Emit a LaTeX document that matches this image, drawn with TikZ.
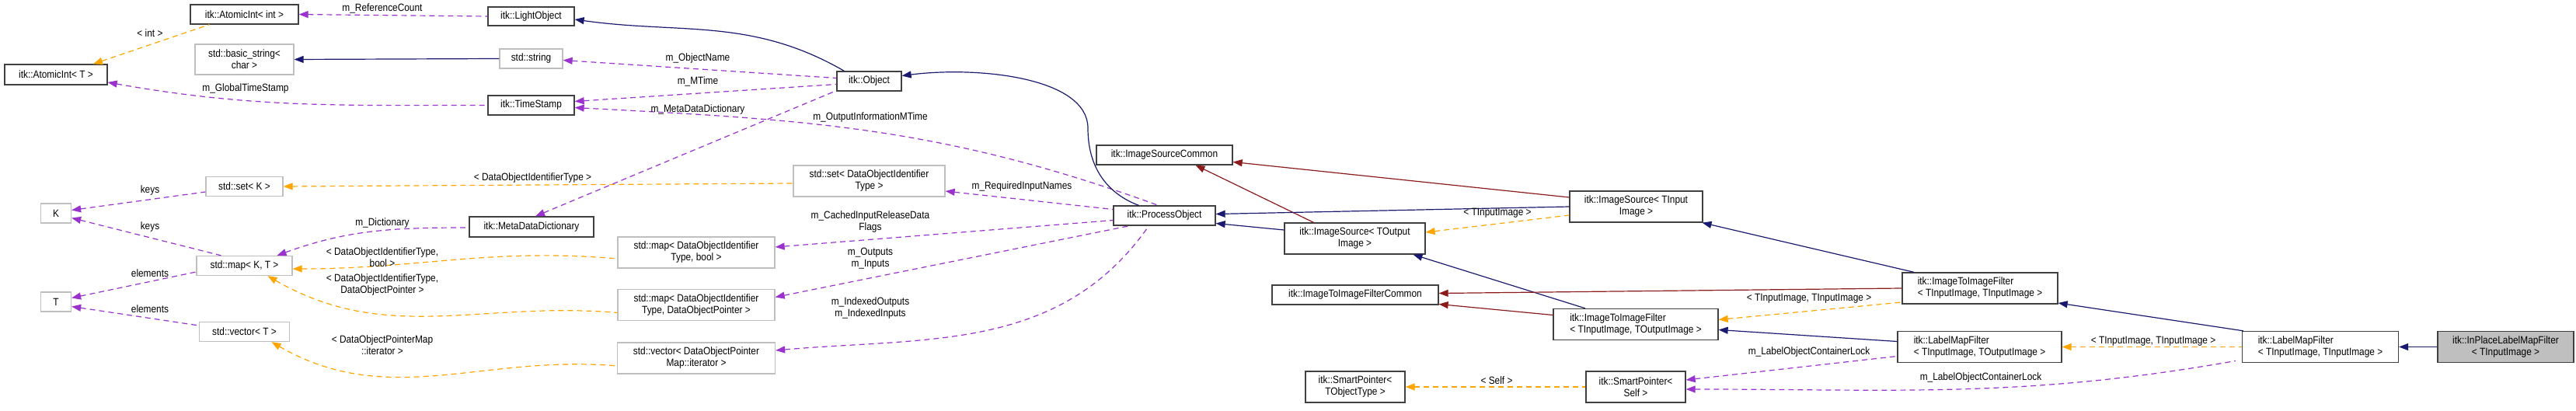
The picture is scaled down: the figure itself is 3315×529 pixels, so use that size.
\documentclass[tikz,border=0pt]{standalone}
\usepackage{fontspec}
\setmainfont{Liberation Sans}[FakeStretch=0.88]
\usetikzlibrary{arrows.meta}
\definecolor{inh}{HTML}{191970}
\definecolor{use}{HTML}{9A32CD}
\definecolor{tpl}{HTML}{FFA500}
\definecolor{prot}{HTML}{8B1A1A}
\definecolor{bord}{HTML}{404040}
\definecolor{gbord}{HTML}{BFBFBF}
\tikzset{
  bx/.style={draw=bord,line width=1.3pt,fill=white,inner sep=0pt,font=\fontsize{13.5}{15}\selectfont,align=center},
  gx/.style={bx,draw=gbord},
  inhe/.style={draw=inh,line width=1.2pt,{Triangle[length=12pt,width=9pt]}-},
  usee/.style={draw=use,dashed,dash pattern=on 7pt off 5pt,line width=1.2pt,{Triangle[length=12pt,width=9pt]}-},
  tple/.style={draw=tpl,dashed,dash pattern=on 7pt off 5pt,line width=1.2pt,{Triangle[length=12pt,width=9pt]}-},
  prote/.style={draw=prot,line width=1.2pt,{Triangle[length=12pt,width=9pt]}-},
  lb/.style={font=\fontsize{13.5}{15}\selectfont,align=center,inner sep=0pt}
}
\begin{document}
\begin{tikzpicture}[x=1pt,y=-1pt]
\useasboundingbox (0,0) rectangle (3315,529);
% nodes
\node[bx,minimum width=139pt,minimum height=25pt] (aint) at (314.5,18.5) {itk::AtomicInt< int >};
\node[bx,minimum width=132pt,minimum height=26pt] (aintT) at (72,96) {itk::AtomicInt< T >};
\node[gx,minimum width=127pt,minimum height=39pt] (bstr) at (314.5,76.5) {std::basic\_string<\\char >};
\node[gx,minimum width=39pt,minimum height=25pt] (K) at (72,274.5) {K};
\node[gx,minimum width=39pt,minimum height=25pt] (T) at (72,388.5) {T};
\node[gx,minimum width=99pt,minimum height=25pt] (setK) at (314.5,240) {std::set< K >};
\node[gx,minimum width=123pt,minimum height=25pt] (map) at (314.5,342) {std::map< K, T >};
\node[gx,minimum width=116pt,minimum height=25pt] (vecT) at (314.5,427) {std::vector< T >};
\node[bx,minimum width=111pt,minimum height=24pt] (light) at (683.5,21) {itk::LightObject};
\node[gx,minimum width=81pt,minimum height=25pt] (str) at (683.5,75.5) {std::string};
\node[bx,minimum width=111pt,minimum height=25pt] (ts) at (683.5,135.5) {itk::TimeStamp};
\node[bx,minimum width=160pt,minimum height=26pt] (mdd) at (684,292) {itk::MetaDataDictionary};
\node[gx,minimum width=202pt,minimum height=40pt] (mapb) at (896,325) {std::map< DataObjectIdentifier\\Type, bool >};
\node[gx,minimum width=202pt,minimum height=40pt] (mapd) at (896,392.5) {std::map< DataObjectIdentifier\\Type, DataObjectPointer >};
\node[gx,minimum width=203pt,minimum height=40pt] (vec) at (896,461) {std::vector< DataObjectPointer\\Map::iterator >};
\node[bx,minimum width=83pt,minimum height=25pt] (obj) at (1118.5,104.5) {itk::Object};
\node[gx,minimum width=195pt,minimum height=40pt] (setD) at (1118.5,233) {std::set< DataObjectIdentifier\\Type >};
\node[bx,minimum width=131pt,minimum height=25pt] (po) at (1498.5,277.5) {itk::ProcessObject};
\node[bx,minimum width=175pt,minimum height=25pt] (isc) at (1498.5,199.5) {itk::ImageSourceCommon};
\node[bx,minimum width=181pt,minimum height=40pt] (isO) at (1743.5,307) {itk::ImageSource< TOutput\\Image >};
\node[bx,minimum width=214pt,minimum height=25pt] (itifC) at (1744,379.5) {itk::ImageToImageFilterCommon};
\node[bx,minimum width=128pt,minimum height=40pt] (spT) at (1744,498) {itk::SmartPointer<\\TObjectType >};
\node[bx,minimum width=171pt,minimum height=40pt] (isI) at (2105.5,266) {itk::ImageSource< TInput\\Image >};
\node[bx,minimum width=212pt,minimum height=40pt,align=left] (itifO) at (2105,417.5) {itk::ImageToImageFilter\\< TInputImage, TOutputImage >};
\node[bx,minimum width=128pt,minimum height=40pt] (spS) at (2105,498) {itk::SmartPointer<\\Self >};
\node[bx,minimum width=200pt,minimum height=40pt,align=left] (itifI) at (2548,371) {itk::ImageToImageFilter\\< TInputImage, TInputImage >};
\node[bx,minimum width=211pt,minimum height=40pt,align=left] (lmfO) at (2547.5,446.5) {itk::LabelMapFilter\\< TInputImage, TOutputImage >};
\node[bx,minimum width=201pt,minimum height=40pt,align=left] (lmfI) at (2986,446.5) {itk::LabelMapFilter\\< TInputImage, TInputImage >};
\node[bx,fill=gbord,minimum width=175pt,minimum height=40pt] (inp) at (3224.5,446.5) {itk::InPlaceLabelMapFilter\\< TInputImage >};
% edges
\draw[usee] (aint.east) -- (light.west);
\draw[tple] ([xshift=48pt]aintT.north) -- ([xshift=-45pt]aint.south);
\draw[usee] ([yshift=-10pt]aintT.east) to[out=-10,in=180] (ts.west);
\draw[inhe] (bstr.east) -- (str.west);
\draw[inhe] ([yshift=-4pt]light.east) to[out=-8,in=150] ([xshift=10pt]obj.north west);
\draw[usee] ([yshift=-2pt]str.east) -- ([yshift=4pt]obj.west);
\draw[usee] ([yshift=5pt]ts.east) -- ([yshift=-4pt]obj.west);
\draw[usee] ([xshift=5pt]mdd.north) -- ([yshift=1pt]obj.south west);
\draw[usee] ([yshift=-3pt]ts.east) to[out=-3,in=160] ([xshift=-8pt]po.north);
\draw[inhe] ([yshift=7pt]obj.east) .. controls (1260,85) and (1400,100) .. (1400,165) .. controls (1400,230) and (1440,255) .. ([xshift=-33pt]po.north);
\draw[usee] ([yshift=-13pt]setD.east) -- ([yshift=8pt]po.west);
\draw[usee] ([yshift=7pt]mapb.east) -- ([yshift=-6pt]po.west);
\draw[usee] ([yshift=10pt]mapd.east) -- ([xshift=-45pt]po.south);
\draw[usee] ([yshift=10pt]vec.east) to[out=5,in=-125] ([xshift=-20pt]po.south);
\draw[tple] (setK.east) -- ([yshift=-3pt]setD.west);
\draw[usee] ([xshift=42pt]map.north) to[out=20,in=180] ([yshift=-1pt]mdd.west);
\draw[tple] ([yshift=-4pt]map.east) to[out=0,in=175] ([yshift=-8pt]mapb.west);
\draw[tple] ([xshift=30pt]map.south) to[out=-30,in=175] ([yshift=-10pt]mapd.west);
\draw[tple] ([xshift=35pt]vecT.south) to[out=-30,in=175] ([yshift=-10pt]vec.west);
\draw[usee] ([yshift=4pt]K.east) -- ([yshift=-7pt]setK.west);
\draw[usee] ([yshift=-6pt]K.east) -- ([xshift=-30pt]map.north);
\draw[usee] ([yshift=5pt]T.east) -- ([yshift=-8pt]map.west);
\draw[usee] ([yshift=-6pt]T.east) -- ([yshift=8pt]vecT.west);
\draw[inhe] ([yshift=-10pt]po.east) -- ([yshift=11pt]isO.west);
\draw[prote] ([xshift=40pt]isc.south) -- ([xshift=-53pt]isO.north);
\draw[inhe] ([yshift=2pt]po.east) -- (isI.west);
\draw[prote] ([yshift=-9pt]isc.east) -- ([yshift=12pt]isI.west);
\draw[tple] ([yshift=8pt]isO.east) -- ([yshift=-11pt]isI.west);
\draw[inhe] ([xshift=75pt]isO.south) -- ([xshift=-65pt]itifO.north);
\draw[prote] ([yshift=-12pt]itifC.east) -- ([yshift=12pt]itifO.west);
\draw[inhe] ([xshift=85pt]isI.south) -- ([xshift=-85pt]itifI.north);
\draw[prote] ([yshift=2pt]itifC.east) -- (itifI.west);
\draw[tple] ([yshift=6pt]itifO.east) -- ([yshift=-18pt]itifI.west);
\draw[inhe] ([yshift=-7pt]itifO.east) -- ([yshift=7pt]lmfO.west);
\draw[usee] ([yshift=9pt]spS.east) -- ([yshift=-12pt]lmfO.west);
\draw[tple] (spT.east) -- (spS.west);
\draw[inhe] ([yshift=-19pt]itifI.east) -- ([xshift=2pt]lmfI.north west);
\draw[tple] (lmfO.east) -- (lmfI.west);
\draw[usee] ([yshift=-3pt]spS.east) to[out=0,in=190] ([xshift=-8pt,yshift=-18pt]lmfI.west);
\draw[inhe] (lmfI.east) -- (inp.west);
% labels
\node[lb] (l1) at (492,11) {m\_ReferenceCount};
\node[lb] (l2) at (193,43) {< int >};
\node[lb] (l3) at (316,114) {m\_GlobalTimeStamp};
\node[lb] (l4) at (193,245) {keys};
\node[lb] (l5) at (193,292) {keys};
\node[lb] (l6) at (193,352) {elements};
\node[lb] (l7) at (193,398) {elements};
\node[lb] (l8) at (685.5,229) {< DataObjectIdentifierType >};
\node[lb] (l9) at (492,287) {m\_Dictionary};
\node[lb] (l10) at (492,331) {< DataObjectIdentifierType,\\bool >};
\node[lb] (l11) at (492,367) {< DataObjectIdentifierType,\\DataObjectPointer >};
\node[lb] (l12) at (492,444) {< DataObjectPointerMap\\::iterator >};
\node[lb] (l13) at (898,75) {m\_ObjectName};
\node[lb] (l14) at (898,105) {m\_MTime};
\node[lb] (l15) at (898,141) {m\_MetaDataDictionary};
\node[lb] (l16) at (1120,151) {m\_OutputInformationMTime};
\node[lb] (l17) at (1315,240) {m\_RequiredInputNames};
\node[lb] (l18) at (1120,286) {m\_CachedInputReleaseData\\Flags};
\node[lb] (l19) at (1120,333) {m\_Outputs\\m\_Inputs};
\node[lb] (l20) at (1120,397) {m\_IndexedOutputs\\m\_IndexedInputs};
\node[lb] (l21) at (1927,274) {< TInputImage >};
\node[lb] (l22) at (1926,490) {< Self >};
\node[lb] (l23) at (2328,384) {< TInputImage, TInputImage >};
\node[lb] (l24) at (2328,453) {m\_LabelObjectContainerLock};
\node[lb] (l25) at (2549,486) {m\_LabelObjectContainerLock};
\node[lb] (l26) at (2771,439) {< TInputImage, TInputImage >};
\end{tikzpicture}
\end{document}
